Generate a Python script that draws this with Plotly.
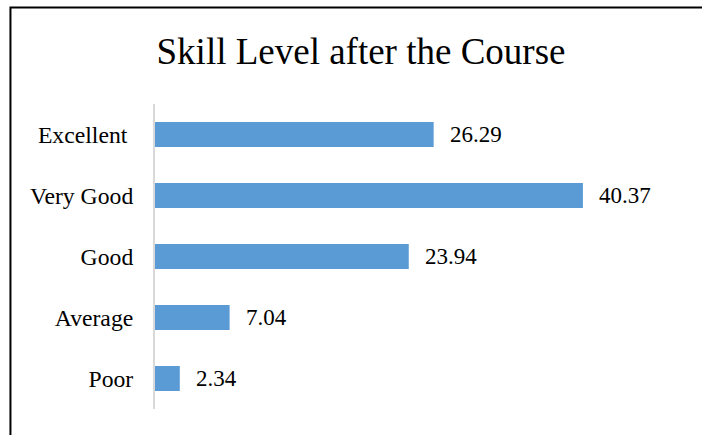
import plotly.graph_objects as go

categories = ["Excellent", "Very Good", "Good", "Average", "Poor"]
tick_labels = ["Excellent\u00a0", "Very Good", "Good", "Average", "Poor"]
values = [26.29, 40.37, 23.94, 7.04, 2.34]
value_labels = ["26.29", "40.37", "23.94", "7.04", "2.34"]

W, H = 702, 435
L, R_PX, T, B_PX = 155, 632.5, 104, 409
plot_w = R_PX - L
plot_h = B_PX - T

def px_to_paper_x(px):
    return (px - L) / plot_w

def px_to_paper_y(py):
    return (B_PX - py) / plot_h

font_family = "Liberation Serif"

fig = go.Figure()
fig.add_trace(go.Bar(
    y=categories,
    x=values,
    orientation="h",
    marker=dict(color="#5B9BD5", line=dict(width=0)),
    hoverinfo="skip",
))

annotations = []
for c, v, t in zip(categories, values, value_labels):
    annotations.append(dict(
        x=v, y=c, xref="x", yref="y", text=t, showarrow=False,
        xanchor="left", yanchor="middle", xshift=14,
        font=dict(family=font_family, size=23, color="#000000"),
    ))

fig.update_layout(
    width=W, height=H,
    margin=dict(l=L, r=W - R_PX, t=T, b=H - B_PX, pad=0),
    paper_bgcolor="white", plot_bgcolor="white",
    showlegend=False,
    bargap=0.59,
    title=dict(
        text="Skill Level after the Course",
        x=361 / W, xanchor="center", xref="container",
        y=1 - 51 / H, yanchor="middle", yref="container",
        font=dict(family=font_family, size=37, color="#000000"),
    ),
    xaxis=dict(range=[0, 45], visible=False, fixedrange=True),
    yaxis=dict(
        categoryorder="array", categoryarray=categories[::-1],
        tickmode="array", tickvals=categories, ticktext=tick_labels,
        showline=True, linecolor="#d9d9d9", linewidth=2,
        showgrid=False, zeroline=False, ticks="",
        ticklabelstandoff=15, fixedrange=True,
        tickfont=dict(family=font_family, size=23.7, color="#000000"),
    ),
    annotations=annotations,
    shapes=[dict(
        type="rect", xref="paper", yref="paper",
        x0=px_to_paper_x(10.3), x1=px_to_paper_x(720),
        y0=px_to_paper_y(460), y1=px_to_paper_y(7.5),
        line=dict(color="#000000", width=2), fillcolor="rgba(0,0,0,0)",
        layer="above",
    )],
)

fig.write_html(
    "out.html",
    config={"displayModeBar": False},
    post_script="document.body.style.margin='0';document.body.style.overflow='hidden';",
)
